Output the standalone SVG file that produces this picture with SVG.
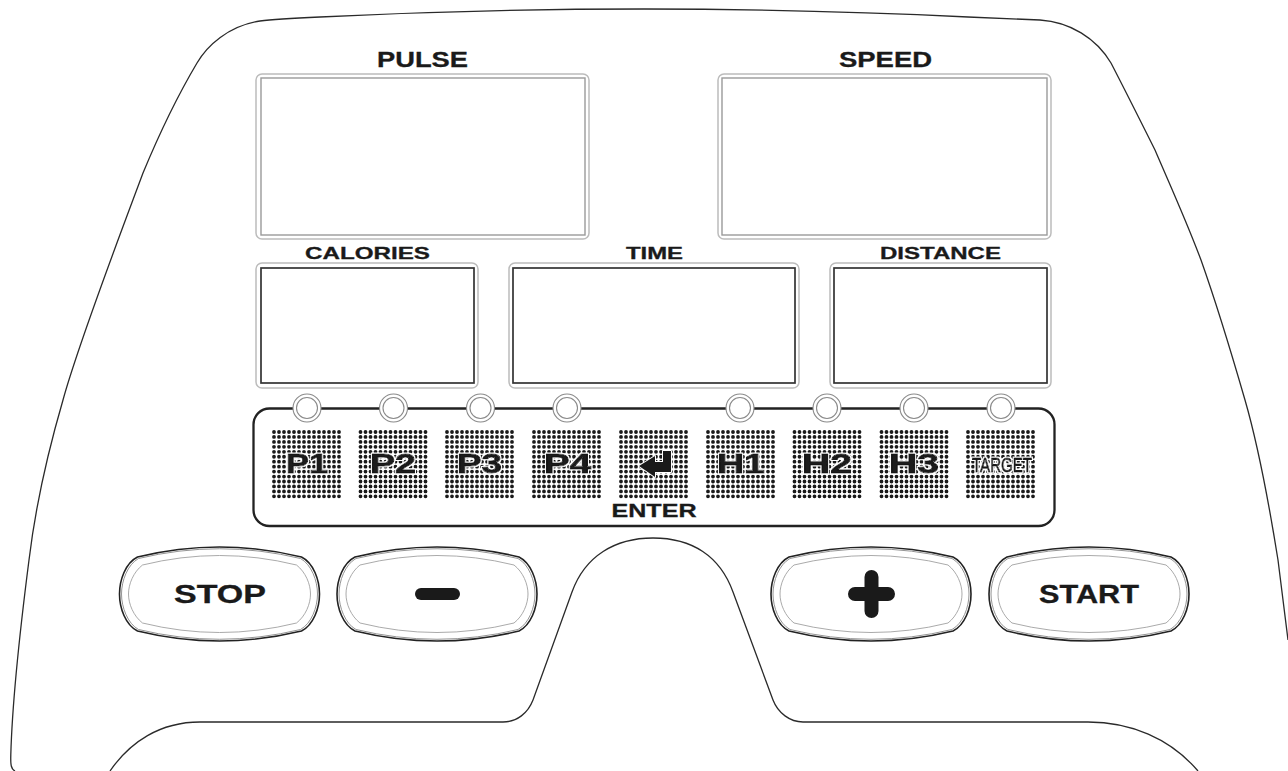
<svg xmlns="http://www.w3.org/2000/svg" width="1288" height="771" viewBox="0 0 1288 771">
<style>
text{font-family:"Liberation Sans",Arial,sans-serif;font-weight:700;fill:#1a1a1a;stroke:#1a1a1a;stroke-width:.3}
.line{fill:none;stroke:#2a2a2a;stroke-width:1.3}
.oframe{fill:#fff;stroke:#bcbcbc;stroke-width:1.5}
.iframe{fill:#fff;stroke:#9a9a9a;stroke-width:1.4}
.iframe.d{stroke:#333;stroke-width:1.7}
.led{fill:#fff;stroke:#8a8a8a;stroke-width:1.1}
.key{stroke-width:.9;filter:url(#halo)}
.tgt{font-weight:400;stroke-width:1;filter:url(#halo)}
.b1{fill:#fff;stroke:#222;stroke-width:1.6}
.b2{fill:none;stroke:#888;stroke-width:.9}
.b3{fill:none;stroke:#a0a0a0;stroke-width:.9}
</style>
<defs>
<filter id="halo" x="-10%" y="-20%" width="120%" height="140%">
<feMorphology in="SourceAlpha" operator="dilate" radius="1" result="w"/>
<feFlood flood-color="#fff"/>
<feComposite in2="w" operator="in" result="white"/>
<feMerge><feMergeNode in="white"/><feMergeNode in="SourceGraphic"/></feMerge>
</filter>
<path id="grid" fill="none" stroke="#1a1a1a" stroke-width="3.800" stroke-linecap="round" stroke-dasharray="0 5" d="M0,0H65.100M0,4.950H65.100M0,9.900H65.100M0,14.850H65.100M0,19.800H65.100M0,24.750H65.100M0,29.700H65.100M0,34.650H65.100M0,39.600H65.100M0,44.550H65.100M0,49.500H65.100M0,54.450H65.100M0,59.400H65.100M0,64.350H65.100"/>
<g id="btn">
<path class="b1" d="M-82,-37Q0,-57 82,-37C94,-31 100,-14 100,0C100,14 94,31 82,37Q0,57 -82,37C-94,31 -100,14 -100,0C-100,-14 -94,-31 -82,-37Z"/>
<path class="b2" d="M-81,-35.500Q0,-55 81,-35.500C92,-29.500 98,-13 98,0C98,13 92,29.500 81,35.500Q0,55 -81,35.500C-92,29.500 -98,13 -98,0C-98,-13 -92,-29.500 -81,-35.500Z"/>
<path class="b3" d="M-77,-29Q0,-48 77,-29C86,-22 91,-10 91,0C91,10 86,22 77,29Q0,48 -77,29C-86,22 -91,10 -91,0C-91,-10 -86,-22 -77,-29Z"/>
</g>
</defs>
<rect width="1288" height="771" fill="#fff"/>
<g id="body">
<path class="line" d="M15,771C11,769 10.500,765 10.800,755C12,710 20,630 29,560C35,510 47,455 63,400C78,345 118,240 143,173C160,132 178,95 197,63C207,46 228,26 260,21Q275,19 320,17Q480,9 644,9Q810,9 968,17L1040,20C1070,22 1096,38 1111,63C1125,90 1140,120 1155,150C1170,185 1186,220 1201,260C1217,305 1232,355 1245,400C1258,445 1270,510 1278,560C1282,590 1285,615 1288,640"/>
<path class="line" d="M110,771C130,742 160,722 200,722L503,722C517,722 528,713 533,700L572,592C585,556 615,538 653,538C692,538 720,556 733,592L773,700C778,713 790,722 803,722L1088,722C1130,722 1170,738 1198,771"/>
</g>
<g id="pulse"><text x="377" y="67" font-size="21.500" textLength="91" lengthAdjust="spacingAndGlyphs">PULSE</text><rect class="oframe" x="256" y="74" width="333" height="165" rx="6"/><rect class="iframe" x="261" y="78" width="324" height="157"/></g>
<g id="speed"><text x="839" y="67" font-size="21.500" textLength="93" lengthAdjust="spacingAndGlyphs">SPEED</text><rect class="oframe" x="718" y="74" width="333" height="165" rx="6"/><rect class="iframe" x="722" y="78" width="325" height="157"/></g>
<g id="calories"><text x="305" y="259" font-size="16.500" textLength="125" lengthAdjust="spacingAndGlyphs">CALORIES</text><rect class="oframe" x="256" y="263" width="222" height="125" rx="6"/><rect class="iframe d" x="261" y="268" width="213" height="115"/></g>
<g id="time"><text x="626" y="259" font-size="16.500" textLength="57" lengthAdjust="spacingAndGlyphs">TIME</text><rect class="oframe" x="509" y="263" width="290" height="125" rx="6"/><rect class="iframe d" x="513" y="268" width="282" height="115"/></g>
<g id="distance"><text x="880" y="259" font-size="16.500" textLength="121" lengthAdjust="spacingAndGlyphs">DISTANCE</text><rect class="oframe" x="830" y="263" width="221" height="125" rx="6"/><rect class="iframe d" x="834" y="268" width="213" height="115"/></g>
<g id="panel">
<rect x="253.500" y="408.500" width="801" height="117.500" rx="16" fill="#fff" stroke="#222" stroke-width="2.300"/>
<text x="611.500" y="517" font-size="17.500" textLength="85" lengthAdjust="spacingAndGlyphs">ENTER</text>
</g>
<g id="leds">
<circle class="led" cx="307" cy="408" r="14"/><circle class="led" cx="307" cy="408" r="10.500"/>
<circle class="led" cx="393.500" cy="408" r="14"/><circle class="led" cx="393.500" cy="408" r="10.500"/>
<circle class="led" cx="480.500" cy="408" r="14"/><circle class="led" cx="480.500" cy="408" r="10.500"/>
<circle class="led" cx="567" cy="408" r="14"/><circle class="led" cx="567" cy="408" r="10.500"/>
<circle class="led" cx="740" cy="408" r="14"/><circle class="led" cx="740" cy="408" r="10.500"/>
<circle class="led" cx="827" cy="408" r="14"/><circle class="led" cx="827" cy="408" r="10.500"/>
<circle class="led" cx="914" cy="408" r="14"/><circle class="led" cx="914" cy="408" r="10.500"/>
<circle class="led" cx="1001" cy="408" r="14"/><circle class="led" cx="1001" cy="408" r="10.500"/>
</g>
<g id="key-p1"><use href="#grid" x="274" y="432"/><text class="key" x="286" y="473" font-size="28" textLength="42" lengthAdjust="spacingAndGlyphs">P1</text></g>
<g id="key-p2"><use href="#grid" x="360.500" y="432"/><text class="key" x="370" y="473" font-size="28" textLength="46" lengthAdjust="spacingAndGlyphs">P2</text></g>
<g id="key-p3"><use href="#grid" x="447" y="432"/><text class="key" x="457" y="473" font-size="28" textLength="45" lengthAdjust="spacingAndGlyphs">P3</text></g>
<g id="key-p4"><use href="#grid" x="534" y="432"/><text class="key" x="544" y="473" font-size="28" textLength="47" lengthAdjust="spacingAndGlyphs">P4</text></g>
<g id="key-enter"><use href="#grid" x="621" y="432"/><polygon points="639,466 655,456 655,462 663,462 663,451 671,451 671,472 655,472 655,477" fill="#1a1a1a" stroke="#fff" stroke-width="2" paint-order="stroke" stroke-linejoin="round"/></g>
<g id="key-h1"><use href="#grid" x="708" y="432"/><text class="key" x="717" y="473" font-size="28" textLength="48" lengthAdjust="spacingAndGlyphs">H1</text></g>
<g id="key-h2"><use href="#grid" x="794.500" y="432"/><text class="key" x="802" y="473" font-size="28" textLength="50" lengthAdjust="spacingAndGlyphs">H2</text></g>
<g id="key-h3"><use href="#grid" x="881.500" y="432"/><text class="key" x="889" y="473" font-size="28" textLength="50" lengthAdjust="spacingAndGlyphs">H3</text></g>
<g id="key-target"><use href="#grid" x="968" y="432"/><text class="tgt" x="972" y="472" font-size="21" textLength="60" lengthAdjust="spacingAndGlyphs">TARGET</text></g>
<g id="btn-stop"><use href="#btn" x="219.500" y="594"/><text x="174" y="603" font-size="25" textLength="92" lengthAdjust="spacingAndGlyphs">STOP</text></g>
<g id="btn-minus"><use href="#btn" x="437" y="594"/><rect x="415" y="588" width="45" height="12" rx="6" fill="#1a1a1a"/></g>
<g id="btn-plus"><use href="#btn" x="871" y="594"/><path d="M855,594H888M871.500,577V611" stroke="#1a1a1a" stroke-width="14" stroke-linecap="round" fill="none"/></g>
<g id="btn-start"><use href="#btn" x="1089" y="594"/><text x="1039" y="603" font-size="25" textLength="100" lengthAdjust="spacingAndGlyphs">START</text></g>
</svg>
